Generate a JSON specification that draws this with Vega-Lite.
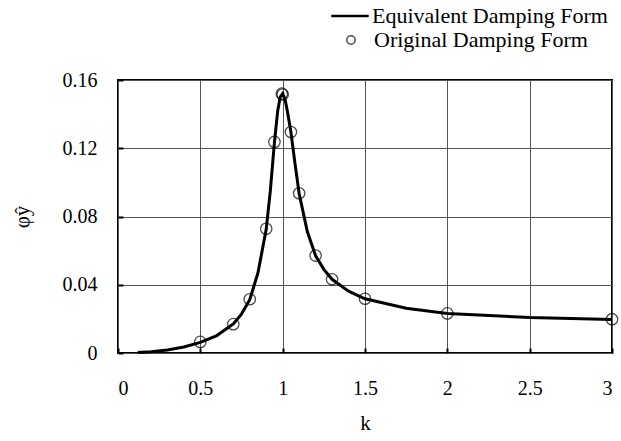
{
  "$schema": "https://vega.github.io/schema/vega-lite/v6.json",
  "width": 494,
  "height": 273,
  "autosize": {"type": "none"},
  "padding": {"left": 118, "top": 80, "right": 9, "bottom": 88},
  "background": "white",
  "config": {
    "view": {"stroke": "black", "strokeWidth": 2},
    "font": "Liberation Serif",
    "legend": {"labelFont": "Liberation Serif", "labelFontSize": 22, "labelColor": "black", "padding": 0, "labelLimit": 0}
  },
  "datasets": {
    "curve": [
      {"k": 0.12, "phi": 0.0003, "series": "Equivalent Damping Form"},
      {"k": 0.2, "phi": 0.0008, "series": "Equivalent Damping Form"},
      {"k": 0.3, "phi": 0.0018, "series": "Equivalent Damping Form"},
      {"k": 0.4, "phi": 0.0035, "series": "Equivalent Damping Form"},
      {"k": 0.5, "phi": 0.0062, "series": "Equivalent Damping Form"},
      {"k": 0.6, "phi": 0.0102, "series": "Equivalent Damping Form"},
      {"k": 0.7, "phi": 0.0170, "series": "Equivalent Damping Form"},
      {"k": 0.75, "phi": 0.0228, "series": "Equivalent Damping Form"},
      {"k": 0.8, "phi": 0.0312, "series": "Equivalent Damping Form"},
      {"k": 0.85, "phi": 0.0470, "series": "Equivalent Damping Form"},
      {"k": 0.9, "phi": 0.0725, "series": "Equivalent Damping Form"},
      {"k": 0.925, "phi": 0.095, "series": "Equivalent Damping Form"},
      {"k": 0.95, "phi": 0.1235, "series": "Equivalent Damping Form"},
      {"k": 0.97, "phi": 0.142, "series": "Equivalent Damping Form"},
      {"k": 0.985, "phi": 0.150, "series": "Equivalent Damping Form"},
      {"k": 1.0, "phi": 0.152, "series": "Equivalent Damping Form"},
      {"k": 1.015, "phi": 0.1485, "series": "Equivalent Damping Form"},
      {"k": 1.03, "phi": 0.141, "series": "Equivalent Damping Form"},
      {"k": 1.05, "phi": 0.1295, "series": "Equivalent Damping Form"},
      {"k": 1.075, "phi": 0.111, "series": "Equivalent Damping Form"},
      {"k": 1.1, "phi": 0.0935, "series": "Equivalent Damping Form"},
      {"k": 1.15, "phi": 0.071, "series": "Equivalent Damping Form"},
      {"k": 1.2, "phi": 0.057, "series": "Equivalent Damping Form"},
      {"k": 1.25, "phi": 0.049, "series": "Equivalent Damping Form"},
      {"k": 1.3, "phi": 0.0432, "series": "Equivalent Damping Form"},
      {"k": 1.4, "phi": 0.0362, "series": "Equivalent Damping Form"},
      {"k": 1.5, "phi": 0.0318, "series": "Equivalent Damping Form"},
      {"k": 1.75, "phi": 0.0262, "series": "Equivalent Damping Form"},
      {"k": 2.0, "phi": 0.0232, "series": "Equivalent Damping Form"},
      {"k": 2.5, "phi": 0.0208, "series": "Equivalent Damping Form"},
      {"k": 3.0, "phi": 0.0196, "series": "Equivalent Damping Form"}
    ],
    "pts": [
      {"k": 0.5, "phi": 0.0065, "series": "Original Damping Form"},
      {"k": 0.7, "phi": 0.0169, "series": "Original Damping Form"},
      {"k": 0.8, "phi": 0.0315, "series": "Original Damping Form"},
      {"k": 0.9, "phi": 0.0728, "series": "Original Damping Form"},
      {"k": 0.95, "phi": 0.1237, "series": "Original Damping Form"},
      {"k": 0.995, "phi": 0.152, "series": "Original Damping Form"},
      {"k": 1.0, "phi": 0.1515, "series": "Original Damping Form"},
      {"k": 1.05, "phi": 0.1295, "series": "Original Damping Form"},
      {"k": 1.1, "phi": 0.0936, "series": "Original Damping Form"},
      {"k": 1.2, "phi": 0.0571, "series": "Original Damping Form"},
      {"k": 1.3, "phi": 0.0432, "series": "Original Damping Form"},
      {"k": 1.5, "phi": 0.0318, "series": "Original Damping Form"},
      {"k": 2.0, "phi": 0.0232, "series": "Original Damping Form"},
      {"k": 3.0, "phi": 0.0198, "series": "Original Damping Form"}
    ]
  },
  "layer": [
    {
      "data": {"name": "curve"},
      "mark": {"type": "line", "color": "black", "strokeWidth": 3},
      "encoding": {
        "x": {"field": "k", "type": "quantitative", "scale": {"domain": [0, 3], "nice": false}, "axis": {"title": "k", "labelFont": "Liberation Serif", "labelFontSize": 20, "labelColor": "black", "titleFont": "Liberation Serif", "titleFontSize": 21, "titleFontWeight": "normal", "titleColor": "black", "values": [0, 0.5, 1, 1.5, 2, 2.5, 3], "format": ".1~f", "labelPadding": 30, "titlePadding": 14, "grid": true, "gridColor": "#555", "gridOpacity": 1, "domain": false, "tickColor": "black", "tickWidth": 2, "tickSize": -5}},
        "y": {"field": "phi", "type": "quantitative", "scale": {"domain": [0, 0.16], "nice": false}, "axis": {"title": "φŷ", "labelFont": "Liberation Serif", "labelFontSize": 20, "labelColor": "black", "titleFont": "Liberation Serif", "titleFontSize": 21, "titleFontWeight": "normal", "titleColor": "black", "values": [0, 0.04, 0.08, 0.12, 0.16], "format": ".2~f", "labelPadding": 26, "titlePadding": 30, "grid": true, "gridColor": "#555", "gridOpacity": 1, "domain": false, "tickColor": "black", "tickWidth": 2, "tickSize": -5}},
        "color": {"field": "series", "type": "nominal", "scale": {"domain": ["Equivalent Damping Form"], "range": ["black"]}, "legend": {"title": null, "orient": "none", "legendX": 212, "legendY": -84, "symbolType": "stroke", "symbolSize": 1400, "symbolStrokeWidth": 2.5, "labelOffset": 2}}
      }
    },
    {
      "data": {"name": "pts"},
      "mark": {"type": "point", "filled": false, "color": "black", "size": 130, "strokeWidth": 1.3},
      "encoding": {
        "x": {"field": "k", "type": "quantitative"},
        "y": {"field": "phi", "type": "quantitative"},
        "shape": {"field": "series", "type": "nominal", "scale": {"domain": ["Original Damping Form"], "range": ["circle"]}, "legend": {"title": null, "orient": "none", "legendX": 222, "legendY": -51, "symbolSize": 70, "symbolStrokeColor": "black", "symbolStrokeWidth": 1.5, "labelOffset": 12}}
      }
    }
  ],
  "resolve": {"scale": {"color": "independent", "shape": "independent"}}
}
